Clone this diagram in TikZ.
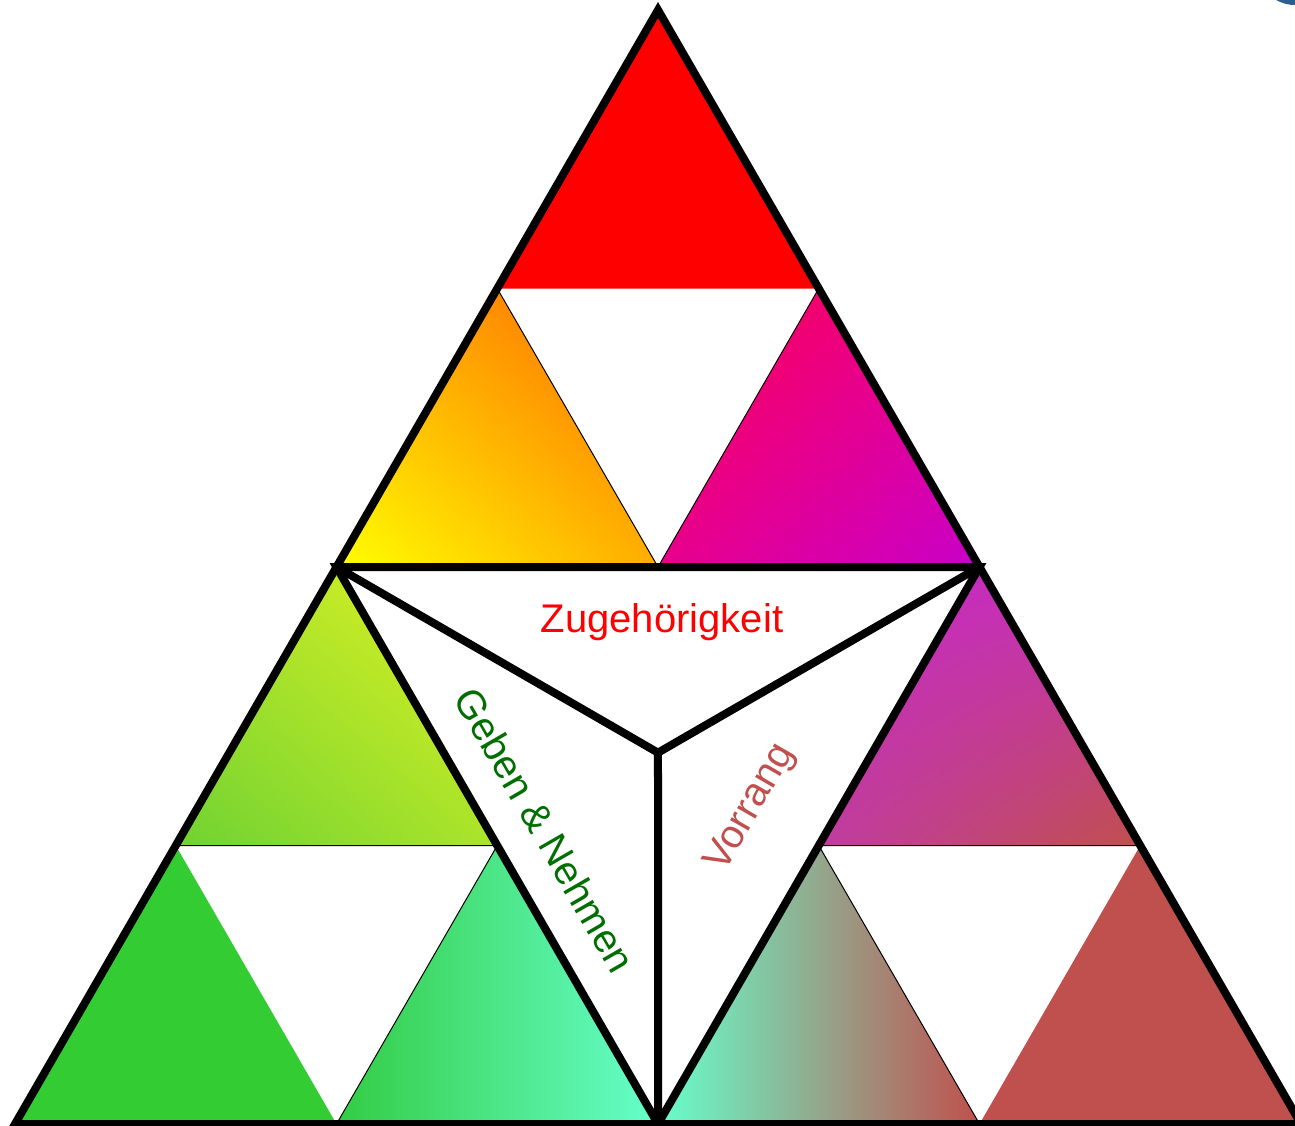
\documentclass[tikz,border=0pt]{standalone}
\usepackage{fontspec}
\setmainfont{Liberation Sans}
\usetikzlibrary{calc,shadings}
\definecolor{cRed}{HTML}{FF0000}
\definecolor{cYel}{HTML}{FFFF00}
\definecolor{cOra}{HTML}{FF6400}
\definecolor{cYO}{HTML}{FFAE00}
\definecolor{cPink}{HTML}{FF0050}
\definecolor{cPur}{HTML}{C800C8}
\definecolor{cPP}{HTML}{E8008C}
\definecolor{cYG}{HTML}{E2F222}
\definecolor{cGr}{HTML}{70D232}
\definecolor{cYGm}{HTML}{ABE42A}
\definecolor{cGreen}{HTML}{33CC33}
\definecolor{cGreenB}{HTML}{33CC44}
\definecolor{cAqua}{HTML}{66FFCC}
\definecolor{cBrick}{HTML}{C0504D}
\definecolor{cVio}{HTML}{C828C8}
\definecolor{cVioR}{HTML}{C430B8}
\definecolor{cVioM}{HTML}{C03CA0}
\definecolor{cDkGreen}{HTML}{006E00}
\definecolor{cBlue}{HTML}{2A5F8F}
\tikzset{
  thick line/.style={line width=8pt, line join=miter},
  sub/.style={draw=black, line width=1pt},
  label text/.style={font=\fontsize{40}{48}\selectfont, inner sep=0pt}
}
\begin{document}
\begin{tikzpicture}[x=1pt,y=-1pt]
\useasboundingbox (0,0) rectangle (1295,1125);
\begin{scope}
\clip (0,0) rectangle (1295,1125);
% main vertices
\coordinate (A) at (658,10);
\coordinate (B) at (15,1124);
\coordinate (C) at (1301,1124);
\coordinate (P) at ($(A)!0.5!(B)$);
\coordinate (Q) at ($(A)!0.5!(C)$);
\coordinate (R) at ($(B)!0.5!(C)$);
\coordinate (O) at ($1/3*(P)+1/3*(Q)+1/3*(R)$);
% sub points
\coordinate (AP) at ($(A)!0.5!(P)$);
\coordinate (AQ) at ($(A)!0.5!(Q)$);
\coordinate (PQ) at ($(P)!0.5!(Q)$);
\coordinate (PB) at ($(P)!0.5!(B)$);
\coordinate (PR) at ($(P)!0.5!(R)$);
\coordinate (BR) at ($(B)!0.5!(R)$);
\coordinate (QR) at ($(Q)!0.5!(R)$);
\coordinate (QC) at ($(Q)!0.5!(C)$);
\coordinate (RC) at ($(R)!0.5!(C)$);
% top corner
\fill[cRed] (A) -- (AP) -- (AQ) -- cycle;
\shade[sub, lower left=cYel, upper right=cOra, upper left=cYO, lower right=cYO] (AP) -- (P) -- (PQ) -- cycle;
\shade[sub, upper left=cPink, lower right=cPur, upper right=cPP, lower left=cPP] (AQ) -- (PQ) -- (Q) -- cycle;
% left corner
\shade[sub, upper right=cYG, lower left=cGr, upper left=cYGm, lower right=cYGm] (P) -- (PB) -- (PR) -- cycle;
\fill[cGreen] (PB) -- (B) -- (BR) -- cycle;
\shade[sub, left color=cGreenB, right color=cAqua] (PR) -- (BR) -- (R) -- cycle;
% right corner
\shade[sub, upper left=cVio, upper right=cVioR, lower left=cVioM, lower right=cBrick] (Q) -- (QR) -- (QC) -- cycle;
\shade[sub, left color=cAqua, right color=cBrick] (QR) -- (R) -- (RC) -- cycle;
\fill[cBrick] (QC) -- (RC) -- (C) -- cycle;
% thick lines
\draw[thick line] (A) -- (B) -- (C) -- cycle;
\draw[thick line] (P) -- (Q) -- (R) -- cycle;
\draw[thick line] (P) -- (O) -- (Q);
\draw[thick line] (O) -- (R);
% corner sliver
\fill[cBlue] (1276,0) .. controls (1284,4) and (1289,5) .. (1295,5) -- (1295,0) -- cycle;
\end{scope}
% labels
\node[label text, text=cRed, anchor=base] (zug) at (662,632) {Zugehörigkeit};
\node[label text, text=cDkGreen, rotate=-60] (geb) at (545,830) {Geben \& Nehmen};
\node[label text, text=cBrick, rotate=60] (vor) at (751,808) {Vorrang};
\end{tikzpicture}
\end{document}
